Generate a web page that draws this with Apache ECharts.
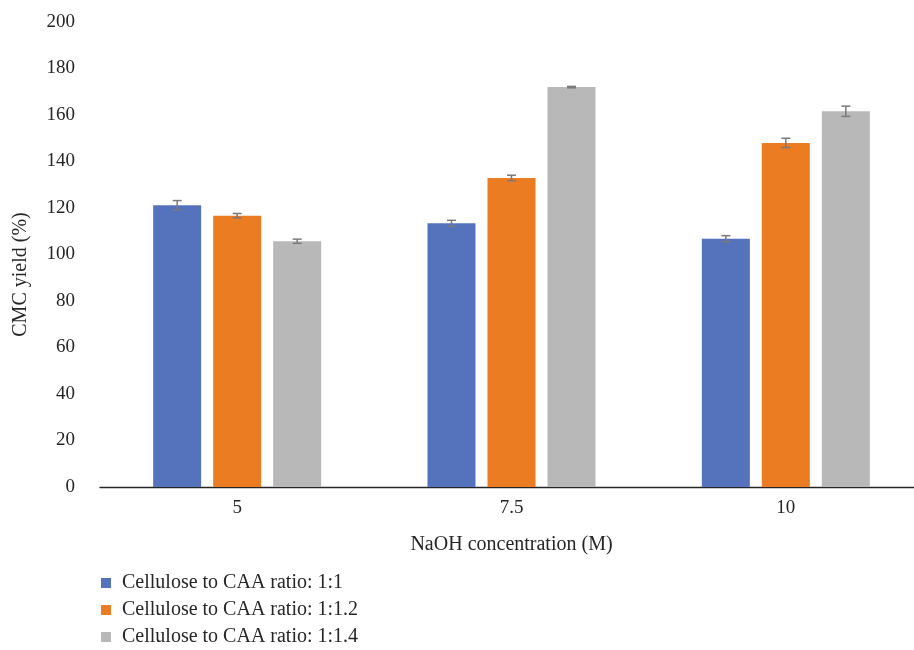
<!DOCTYPE html>
<html>
<head>
<meta charset="utf-8">
<script src="https://cdn.jsdelivr.net/npm/echarts@6/dist/echarts.min.js"></script>
<style>html,body{margin:0;padding:0;background:#fff}#c{width:914px;height:650px}</style>
</head>
<body>
<div id="c"></div>
<script>
var categories = ['5', '7.5', '10'];
var seriesNames = ['Cellulose to CAA ratio: 1:1', 'Cellulose to CAA ratio: 1:1.2', 'Cellulose to CAA ratio: 1:1.4'];
var ratio11 = [121.2, 113.4, 106.8];
var ratio112 = [116.7, 132.9, 148.0];
var ratio114 = [105.7, 172.0, 161.6];
var err11 = [2.0, 1.3, 1.3];
var err112 = [0.95, 1.2, 2.0];
var err114 = [0.9, 0.3, 2.2];
var yTicks = [0, 20, 40, 60, 80, 100, 120, 140, 160, 180, 200];

var values = [ratio11, ratio112, ratio114];
var errors = [err11, err112, err114];
var colors = ['#5473bc', '#ec7c22', '#b8b8b8'];
var BAR_W = 48, BAR_GAP = 12;
var FONT = '"Liberation Serif", "DejaVu Serif", serif';
var TXT = '#262626';

var chart = echarts.init(document.getElementById('c'));
var series = [];
values.forEach(function (v, i) {
  series.push({
    name: seriesNames[i], type: 'bar', data: v,
    barWidth: BAR_W, barGap: '25%',
    itemStyle: { color: colors[i] }
  });
});
values.forEach(function (v, i) {
  var data = v.map(function (val, k) { return [k, val, errors[i][k]]; });
  series.push({
    type: 'custom', name: seriesNames[i] + ' err', data: data, z: 10,
    silent: true,
    renderItem: function (params, api) {
      var k = api.value(0), val = api.value(1), e = api.value(2);
      var off = (i - 1) * (BAR_W + BAR_GAP);
      var hi = api.coord([k, val + e]);
      var lo = api.coord([k, val - e]);
      var x = hi[0] + off, cap = 4.5;
      var st = { stroke: '#7a7a7a', lineWidth: 1.5 };
      return { type: 'group', children: [
        { type: 'line', shape: { x1: x, y1: hi[1], x2: x, y2: lo[1] }, style: st },
        { type: 'line', shape: { x1: x - cap, y1: hi[1], x2: x + cap, y2: hi[1] }, style: st },
        { type: 'line', shape: { x1: x - cap, y1: lo[1], x2: x + cap, y2: lo[1] }, style: st }
      ]};
    },
    encode: { x: 0, y: 1 }
  });
});

chart.setOption({
  animation: false,
  textStyle: { fontFamily: FONT },
  grid: { left: 100, right: -9, top: 22, bottom: 163, containLabel: false, outerBoundsMode: 'none' },
  legend: {
    data: seriesNames, orient: 'vertical', left: 101, top: 573, padding: 0,
    itemWidth: 10, itemHeight: 10, itemGap: 7,
    icon: 'rect',
    textStyle: { fontFamily: FONT, fontSize: 20, color: TXT, padding: [0, 0, 0, 6] }
  },
  xAxis: {
    type: 'category', data: categories,
    name: 'NaOH concentration (M)', nameLocation: 'middle', nameGap: 48,
    nameTextStyle: { fontFamily: FONT, fontSize: 20, color: TXT },
    axisLine: { lineStyle: { color: TXT, width: 1.3 } },
    axisTick: { show: false },
    axisLabel: { fontFamily: FONT, fontSize: 19, color: TXT, margin: 12 }
  },
  yAxis: {
    type: 'value', min: 0, max: 200, interval: 20,
    name: 'CMC yield (%)', nameLocation: 'middle', nameGap: 69,
    nameTextStyle: { fontFamily: FONT, fontSize: 20, color: TXT, padding: [0, 40, 0, 0] },
    axisLine: { show: false }, axisTick: { show: false }, splitLine: { show: false },
    axisLabel: { fontFamily: FONT, fontSize: 19, color: TXT, margin: 25,
      formatter: function (v) { return yTicks.indexOf(v) >= 0 ? String(v) : ''; } }
  },
  series: series
});
</script>
</body>
</html>
